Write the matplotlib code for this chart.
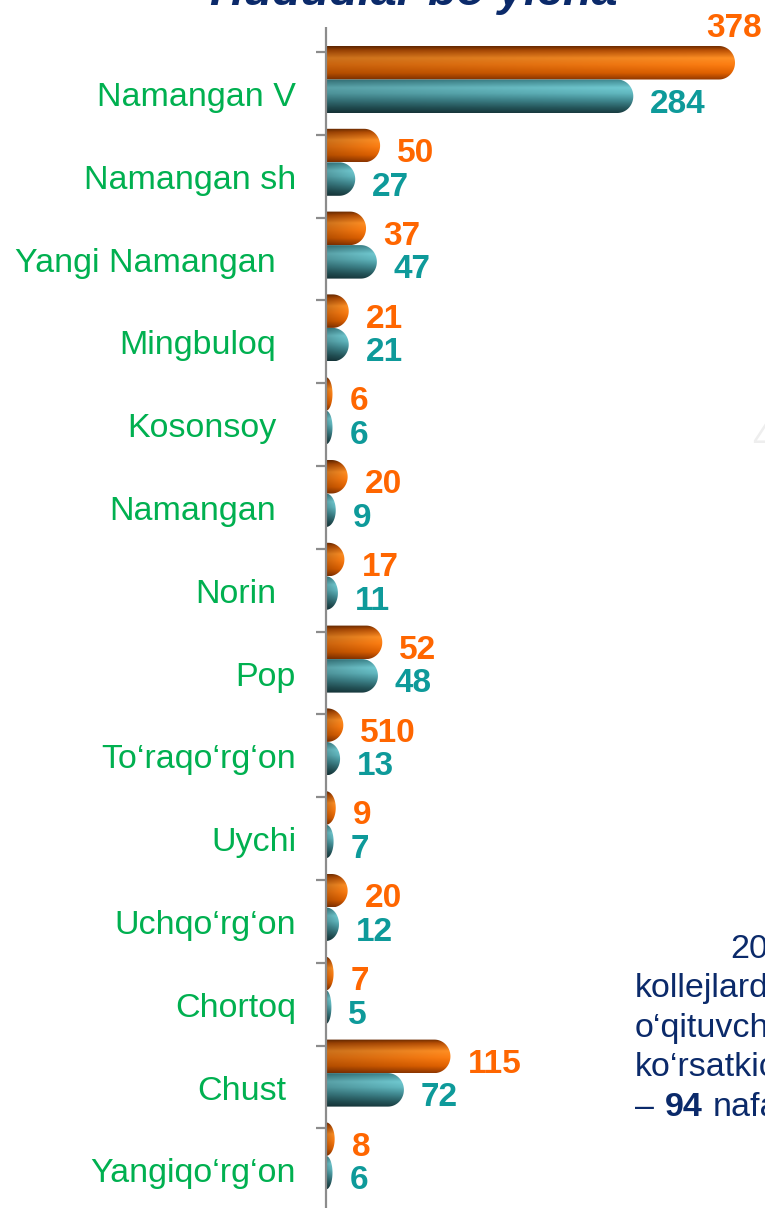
import numpy as np
import matplotlib
matplotlib.use('Agg')
import matplotlib.pyplot as plt
from matplotlib.path import Path
from matplotlib.patches import PathPatch

plt.rcParams['font.family'] = ['Liberation Sans', 'DejaVu Sans']

# hududlar (yuqoridan pastga)
categories = ['Namangan V', 'Namangan sh', 'Yangi Namangan', 'Mingbuloq', 'Kosonsoy',
              'Namangan', 'Norin', 'Pop', 'To‘raqo‘rg‘on', 'Uychi', 'Uchqo‘rg‘on',
              'Chortoq', 'Chust', 'Yangiqo‘rg‘on']
# orange series (bar lengths) and the labels printed next to them
orange_vals = [378, 50, 37, 21, 6, 20, 17, 52, 16, 9, 20, 7, 115, 8]
orange_labels = ['378', '50', '37', '21', '6', '20', '17', '52', '510', '9', '20', '7', '115', '8']
# teal series
teal_vals = [284, 27, 47, 21, 6, 9, 11, 48, 13, 7, 12, 5, 72, 6]
teal_labels = [str(v) for v in teal_vals]

W, H = 765, 1208
AX_LEFT = 326          # px, where the value axis sits
PX_X = 1.082           # px per unit
PITCH = 82.8           # px per category
FIRST = 79.5           # px, centre of first group
BAR_H = 33.5 / PITCH   # one bar height in category units

GREEN = '#00B050'
ORANGE_TXT = '#FF6600'
TEAL_TXT = '#0E9A9A'
NAVY = '#0B2A6A'
AXIS_GREY = '#8C8C8C'

orange_stops = [(0.0, (0.45, 0.18, 0.0)), (0.12, (0.74, 0.32, 0.02)),
                (0.35, (1.0, 0.56, 0.14)), (0.55, (0.99, 0.49, 0.07)),
                (0.8, (0.88, 0.38, 0.0)), (1.0, (0.58, 0.22, 0.0))]
teal_stops = [(0.0, (0.24, 0.53, 0.56)), (0.25, (0.44, 0.79, 0.82)),
              (0.42, (0.38, 0.72, 0.75)), (0.62, (0.26, 0.55, 0.58)),
              (0.85, (0.15, 0.35, 0.37)), (1.0, (0.1, 0.24, 0.26))]


def shade(stops, nx=80, ny=60):
    t = np.linspace(0, 1, ny)
    pos = [s[0] for s in stops]
    col = np.array([s[1] for s in stops])
    vert = np.stack([np.interp(t, pos, col[:, k]) for k in range(3)], axis=1)
    fx = 0.8 + 0.2 * np.linspace(0, 1, nx)
    return np.clip(vert[:, None, :] * fx[None, :, None], 0, 1)


def bar_path(x1, yc, h, rx):
    rx = min(rx, x1)
    t = np.linspace(-np.pi / 2, np.pi / 2, 40)
    xs = [0] + list(x1 - rx + rx * np.cos(t)) + [0, 0]
    ys = [yc - h / 2] + list(yc + h / 2 * np.sin(t)) + [yc + h / 2, yc - h / 2]
    codes = [Path.MOVETO] + [Path.LINETO] * (len(xs) - 2) + [Path.CLOSEPOLY]
    return Path(np.column_stack([xs, ys]), codes)


def draw_bar(ax, v, yc, stops):
    patch = PathPatch(bar_path(v, yc, BAR_H, 16 / PX_X), facecolor='none', edgecolor='none')
    ax.add_patch(patch)
    im = ax.imshow(shade(stops), extent=(0, v, yc + BAR_H / 2, yc - BAR_H / 2),
                   origin='upper', aspect='auto', interpolation='bilinear')
    im.set_clip_path(patch)


fig = plt.figure(figsize=(W / 100, H / 100), dpi=100)
ax = fig.add_axes([AX_LEFT / W, 0, 1 - AX_LEFT / W, 1])
ax.axis('off')

xmax = (W - AX_LEFT) / PX_X
n = len(categories)
for i in range(n):
    yo = i - BAR_H / 2
    yt = i + BAR_H / 2
    draw_bar(ax, orange_vals[i], yo, orange_stops)
    draw_bar(ax, teal_vals[i], yt, teal_stops)

    # value labels
    if orange_vals[i] > 0.85 * xmax:
        ax.annotate(orange_labels[i], xy=(orange_vals[i], yo), xytext=(27, 26),
                    textcoords='offset pixels', ha='right', va='baseline',
                    color=ORANGE_TXT, fontsize=24, fontweight='bold')
    else:
        ax.annotate(orange_labels[i], xy=(orange_vals[i], yo), xytext=(17, -16.5),
                    textcoords='offset pixels', ha='left', va='baseline',
                    color=ORANGE_TXT, fontsize=24, fontweight='bold')
    ax.annotate(teal_labels[i], xy=(teal_vals[i], yt), xytext=(17, -16.5),
                textcoords='offset pixels', ha='left', va='baseline',
                color=TEAL_TXT, fontsize=24, fontweight='bold')

# category names, some sit a bit further left in the original
name_pad = {2: 20, 3: 20, 4: 20, 5: 20, 6: 20, 12: 10}
for i, name in enumerate(categories):
    ax.annotate(name, xy=(0, i + 26.5 / PITCH), xytext=(-30 - name_pad.get(i, 0), 0),
                textcoords='offset pixels', ha='right', va='baseline',
                color=GREEN, fontsize=24.5)

# axis line + ticks
tick_off = (52 - FIRST) / PITCH
ax.vlines(0, (27 - FIRST) / PITCH, n + 1, color=AXIS_GREY, lw=1.6, clip_on=False)
ax.hlines([i + tick_off for i in range(n)], -10 / PX_X, 0, color=AXIS_GREY, lw=1.6,
          clip_on=False)

ax.set_xlim(0, xmax)
ax.set_ylim(n - 1 + (H - FIRST - (n - 1) * PITCH) / PITCH, -FIRST / PITCH)

# title (cut off by the top edge in the original)
fig.text(414 / W, 1 - 5 / H, 'Hududlar bo‘yicha', ha='center', va='baseline',
         color=NAVY, fontsize=33.7, fontweight='bold', fontstyle='italic')

# side text, runs past the right edge
lines = ['kollejlarda', 'o‘qituvchilar', 'ko‘rsatkichi']
fig.text(730 / W, 1 - 958 / H, '2020-yil', ha='left', va='baseline', color=NAVY, fontsize=24.5)
for k, s in enumerate(lines):
    fig.text(635 / W, 1 - (997.5 + 39.5 * k) / H, s, ha='left', va='baseline',
             color=NAVY, fontsize=24.5)
fig.text(635 / W, 1 - 1116 / H, '–', ha='left', va='baseline', color=NAVY, fontsize=24.5)
fig.text(665 / W, 1 - 1116 / H, '94', ha='left', va='baseline', color=NAVY, fontsize=24.5,
         fontweight='bold')
fig.text(713 / W, 1 - 1116 / H, 'nafar', ha='left', va='baseline', color=NAVY, fontsize=24.5)

# faint watermark glyph at the right edge
fig.text(752 / W, 1 - 449 / H, '4', ha='left', va='baseline', color='#EEEEEE', fontsize=26)

fig.savefig('out.png', dpi=100)
